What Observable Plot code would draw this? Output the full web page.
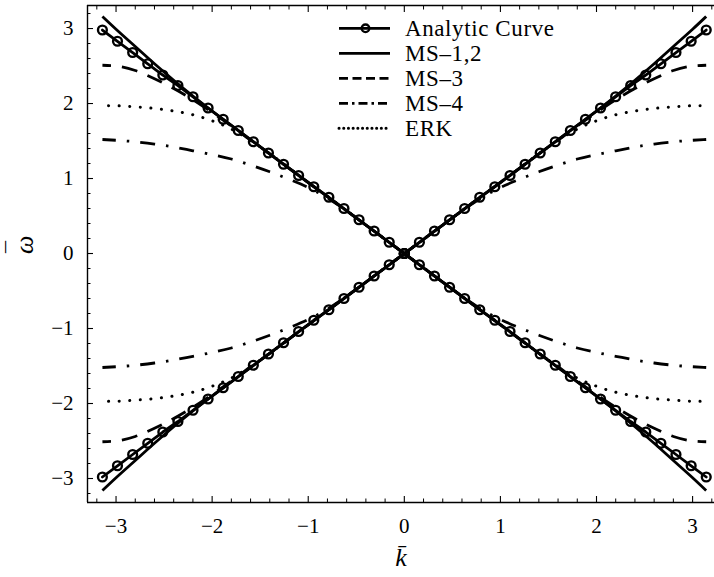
<!DOCTYPE html>
<html>
<head>
<meta charset="utf-8">
<script src="https://cdn.jsdelivr.net/npm/d3@7"></script>
<script src="https://cdn.jsdelivr.net/npm/@observablehq/plot@0.6"></script>
<style>
  body { margin: 0; background: #fff; }
  #chart { position: relative; width: 714px; height: 577px; }
  #legend { position: absolute; left: 0; top: 0; pointer-events: none; }
</style>
</head>
<body>
<div id="chart"></div>
<script>
// Numerical dispersion relations: the curves are even in k and come in ± pairs,
// so only the k >= 0 half of the upper branch is listed.
const kSamples = [0, 0.2, 0.4, 0.6, 0.8, 1.0, 1.2, 1.4, 1.6, 1.8, 2.0, 2.2, 2.4, 2.6, 2.8, 3.0, 3.1416];
const wMS12 = [0, 0.19, 0.38, 0.57, 0.76, 0.95, 1.14, 1.33, 1.52, 1.71, 1.90, 2.10, 2.31, 2.53, 2.76, 2.99, 3.16];
const wMS3  = [0, 0.19, 0.38, 0.57, 0.76, 0.95, 1.14, 1.33, 1.51, 1.70, 1.88, 2.05, 2.20, 2.33, 2.44, 2.50, 2.51];
const wMS4  = [0, 0.19, 0.38, 0.57, 0.74, 0.88, 0.99, 1.09, 1.18, 1.26, 1.32, 1.37, 1.42, 1.46, 1.49, 1.51, 1.52];
const wERK  = [0, 0.19, 0.38, 0.57, 0.76, 0.95, 1.14, 1.33, 1.51, 1.66, 1.77, 1.85, 1.90, 1.935, 1.955, 1.97, 1.972];

// Exact curve, sampled at the marker positions (steps of π/20)
const kAnalytic = [0, 0.157, 0.314, 0.471, 0.628, 0.785, 0.942, 1.100, 1.257, 1.414, 1.571,
                   1.728, 1.885, 2.042, 2.199, 2.356, 2.513, 2.670, 2.827, 2.985, 3.142];
const wAnalytic = [0, 0.15, 0.30, 0.45, 0.60, 0.75, 0.89, 1.04, 1.19, 1.34, 1.49,
                   1.64, 1.79, 1.94, 2.09, 2.24, 2.38, 2.53, 2.68, 2.83, 2.98];

const seriesNames = ["Analytic Curve", "MS–1,2", "MS–3", "MS–4", "ERK"];
const majorTicks = [-3, -2, -1, 0, 1, 2, 3];

// line styles: plot dash pattern, legend dash pattern, line cap, width
const lineStyle = {
  "Analytic Curve": {dash: null, legendDash: null, cap: "butt", width: 2.8},
  "MS–1,2": {dash: null, legendDash: null, cap: "butt", width: 2.8},
  "MS–3": {dash: "16,11", legendDash: "9,4.5", cap: "butt", width: 2.8},
  "MS–4": {dash: "15,11,2.5,11", legendDash: "9,4,2.5,4", cap: "butt", width: 2.8},
  "ERK": {dash: "0.1,10.5", legendDash: "0.1,4.6", cap: "round", width: 3}
};

// Expand the half-branch samples into the four pieces (left/right, upper/lower)
function branches(name, ks, ws) {
  const rows = [];
  for (const side of [-1, 1]) {
    for (const sign of [1, -1]) {
      ks.forEach((k, i) => rows.push({method: name, id: `${name}:${side}:${sign}`, k: side * k, w: sign * ws[i]}));
    }
  }
  return rows;
}

const analyticRows = branches("Analytic Curve", kAnalytic, wAnalytic);
const curveData = {
  "MS–1,2": branches("MS–1,2", kSamples, wMS12),
  "MS–3": branches("MS–3", kSamples, wMS3),
  "MS–4": branches("MS–4", kSamples, wMS4),
  "ERK": branches("ERK", kSamples, wERK)
};

const xDomain = [-3.297, 3.228];
const yDomain = [-3.32, 3.307];
const minorX = d3.range(-32, 33, 2).filter(d => d % 10 !== 0).map(d => d / 10);
const minorY = minorX;

const lineMarks = Object.entries(curveData).map(([name, rows]) =>
  Plot.line(rows, {
    x: "k", y: "w", z: "id", curve: "monotone-x",
    stroke: "#000", strokeWidth: lineStyle[name].width,
    strokeDasharray: lineStyle[name].dash,
    strokeLinecap: lineStyle[name].cap
  })
);

const blank = () => "";
const intLabel = d => (d < 0 ? `\u2212${-d}` : `${d}`);

const chart = Plot.plot({
  width: 714,
  height: 577,
  marginLeft: 87,
  marginRight: 0,
  marginTop: 5,
  marginBottom: 75,
  x: {domain: xDomain},
  y: {domain: yDomain},
  style: {fontFamily: "'Liberation Serif', serif", fontSize: "21px", color: "#000", background: "#fff"},
  marks: [
    ...lineMarks,
    Plot.line(analyticRows, {x: "k", y: "w", z: "id", stroke: "#000", strokeWidth: 2.8}),
    Plot.dot(analyticRows, {x: "k", y: "w", r: 4.4, stroke: "#000", strokeWidth: 2.4, fill: "none"}),
    // frame (left, top, bottom)
    Plot.ruleX([xDomain[0]], {stroke: "#000", strokeWidth: 1.4}),
    Plot.ruleY(yDomain, {stroke: "#000", strokeWidth: 1.4}),
    // inward ticks
    Plot.axisX(majorTicks, {anchor: "bottom", tickSize: -6, tickFormat: blank, label: null, strokeWidth: 1.1}),
    Plot.axisX(minorX, {anchor: "bottom", tickSize: -3.5, tickFormat: blank, label: null, strokeWidth: 1}),
    Plot.axisX(majorTicks, {anchor: "top", tickSize: -6, tickFormat: blank, label: null, strokeWidth: 1.1}),
    Plot.axisX(minorX, {anchor: "top", tickSize: -3.5, tickFormat: blank, label: null, strokeWidth: 1}),
    Plot.axisY(majorTicks, {anchor: "left", tickSize: -6, tickFormat: blank, label: null, strokeWidth: 1.1}),
    Plot.axisY(minorY, {anchor: "left", tickSize: -3.5, tickFormat: blank, label: null, strokeWidth: 1}),
    // tick labels
    Plot.axisX(majorTicks, {anchor: "bottom", tickSize: 0, tickPadding: 16, tickFormat: intLabel, label: null}),
    Plot.axisY(majorTicks, {anchor: "left", tickSize: 0, tickPadding: 14, tickFormat: intLabel, label: null}),
    // axis titles: k with a macron, and a rotated omega with a bar drawn beside it
    Plot.text(["k\u0304"], {text: d => d, frameAnchor: "bottom", dy: 63, fontSize: 26, fontStyle: "italic"}),
    Plot.text(["ω"], {text: d => d, frameAnchor: "left", dx: -63, rotate: -90, fontSize: 26, fontStyle: "italic"}),
    Plot.text(["\u00af"], {text: d => d, frameAnchor: "left", dx: -72, dy: -1, rotate: -90, fontSize: 24})
  ]
});

const container = document.getElementById("chart");
container.appendChild(chart);

// Legend in the upper middle of the frame
const legend = d3.select(container).append("svg")
  .attr("id", "legend")
  .attr("width", 714)
  .attr("height", 577)
  .attr("font-family", "'Liberation Serif', serif")
  .attr("font-size", 23);

seriesNames.forEach((name, i) => {
  const y = 28.3 + 25 * i;
  const st = lineStyle[name];
  legend.append("line")
    .attr("x1", 339).attr("x2", 390).attr("y1", y).attr("y2", y)
    .attr("stroke", "#000").attr("stroke-width", st.width)
    .attr("stroke-dasharray", st.legendDash)
    .attr("stroke-linecap", st.cap);
  if (name === "Analytic Curve") {
    legend.append("circle")
      .attr("cx", 365.5).attr("cy", y).attr("r", 3.8)
      .attr("fill", "none").attr("stroke", "#000").attr("stroke-width", 2.3);
  }
  legend.append("text")
    .attr("x", 405).attr("y", y + 7.5)
    .attr("letter-spacing", 0.6)
    .text(name);
});
</script>
</body>
</html>
